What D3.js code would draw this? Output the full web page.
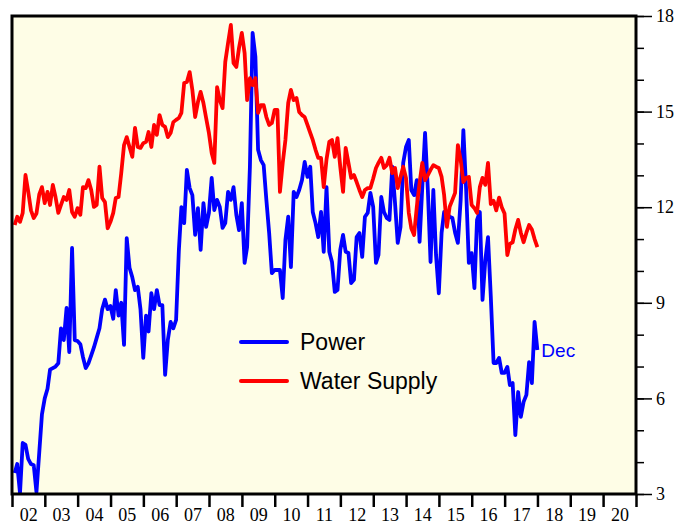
<!DOCTYPE html>
<html>
<head>
<meta charset="utf-8">
<script src="https://cdn.jsdelivr.net/npm/d3@7"></script>
<style>
  body { margin: 0; background: #fff; }
  .tickLabel { font-family: "Liberation Serif", "Times New Roman", serif; font-size: 18px; fill: #000; }
  .legendText { font-family: "Liberation Sans", Arial, sans-serif; font-size: 23px; fill: #000; }
</style>
</head>
<body>
<div id="chart"></div>
<script>
// monthly readings, Jan 2002 .. Dec 2017
var startYear = 2002;

var powerValues = [
  3.66, 3.94, 3.03, 4.6, 4.54, 4.1, 3.94, 3.9, 3.06, 4.3, 5.5, 6.0,
  6.3, 6.9, 6.95, 7.0, 7.1, 8.2, 7.83, 8.84, 7.45, 10.72, 7.83, 7.8,
  7.7, 7.3, 6.95, 7.1, 7.35, 7.6, 7.9, 8.2, 8.8, 9.1, 8.8, 8.9,
  8.5, 9.4, 8.6, 9.0, 7.68, 11.03, 10.1, 9.8, 9.4, 9.5, 8.8, 7.27,
  8.6, 8.1, 9.3, 8.8, 9.4, 8.93, 8.93, 6.74, 7.83, 8.4, 8.2, 8.46,
  10.66, 12.0, 11.5, 13.17, 12.6, 12.38, 11.13, 11.97, 10.66, 12.13, 11.38, 11.82,
  12.92, 11.91, 12.23, 12.01, 11.35, 11.5, 12.48, 12.23, 12.63, 11.76, 11.28, 12.13,
  10.25, 10.75, 13.27, 17.47, 16.72, 13.8, 13.48, 13.32, 12.23, 11.19, 9.93, 10.03,
  10.03, 10.03, 9.15, 10.97, 11.7, 10.12, 12.48, 12.32, 12.54, 12.85, 13.42, 12.95,
  13.27, 11.85, 11.5, 11.06, 11.85, 10.6, 12.63, 10.6, 10.28, 9.34, 9.4, 10.66,
  11.13, 10.6, 10.56, 9.62, 9.72, 11.06, 11.19, 10.44, 11.7, 11.82, 12.45, 12.01,
  10.25, 10.5, 12.32, 11.85, 11.66, 11.6, 13.27, 12.13, 10.88, 11.38, 13.39, 13.89,
  14.11, 12.54, 12.38, 12.85, 10.91, 12.63, 14.33, 12.54, 10.28, 12.54, 10.5, 9.3,
  11.2, 11.85, 11.82, 11.7, 11.66, 11.2, 10.88, 12.23, 14.42, 12.54, 10.25, 10.56,
  9.46, 11.6, 11.85, 9.09, 10.34, 11.06, 9.2, 7.11, 7.11, 7.27, 6.8, 6.8,
  6.99, 6.42, 6.48, 4.85, 6.2, 5.42, 5.89, 6.11, 7.14, 6.48, 8.4, 7.52
];

var waterValues = [
  11.44, 11.7, 11.54, 11.82, 13.01, 12.5, 11.9, 11.66, 11.8, 12.4, 12.63, 12.13,
  12.48, 12.07, 12.7, 12.32, 11.82, 12.07, 12.32, 12.23, 12.54, 11.85, 11.7, 11.97,
  11.76, 12.63, 12.6, 12.85, 12.54, 12.01, 12.07, 13.27, 12.29, 12.16, 11.34, 11.54,
  11.82, 12.29, 12.32, 13.07, 13.95, 14.2, 13.89, 13.58, 14.49, 13.89, 13.86, 14.01,
  14.05, 14.36, 13.89, 14.58, 14.27, 14.89, 14.58, 14.52, 14.2, 14.33, 14.67, 14.74,
  14.8, 14.96, 15.9, 15.93, 16.24, 15.68, 14.83, 15.3, 15.62, 15.27, 14.8, 14.33,
  13.7, 13.39, 15.77, 15.36, 15.11, 16.56, 17.15, 17.72, 16.52, 16.4, 17.0, 17.47,
  16.84, 15.36, 16.05, 15.83, 16.05, 14.96, 15.2, 15.2, 14.83, 14.58, 14.64, 15.05,
  15.05, 12.48, 13.39, 14.11, 15.27, 15.68, 15.36, 15.43, 14.99, 14.89, 14.83, 14.58,
  14.33, 14.11, 13.8, 13.55, 13.55, 12.63, 13.5, 14.05, 14.11, 13.58, 14.17, 13.27,
  12.48, 13.86, 13.39, 12.92, 13.01, 12.79, 12.54, 12.32, 12.54, 12.6, 12.6, 12.9,
  13.23, 13.39, 13.55, 13.23, 13.32, 13.55, 13.07, 13.23, 12.6, 12.95, 13.27, 12.92,
  11.82, 11.34, 11.13, 12.01, 12.76, 13.39, 12.85, 13.01, 13.17, 13.32, 13.27, 13.23,
  12.95, 12.38, 11.38, 12.01, 12.23, 12.45, 13.95, 13.48, 12.79, 12.92, 12.95, 12.07,
  11.97, 11.82, 12.63, 12.92, 12.7, 13.39, 12.1, 12.2, 11.9, 12.3, 12.0, 11.8,
  10.5, 10.85, 10.9, 11.3, 11.6, 11.2, 10.9, 11.2, 11.44, 11.3, 11.0, 10.75
];

var yTickValues = [3, 6, 9, 12, 15, 18];
var seriesNames = ["Power", "Water Supply"];
var seriesColors = ["#0000ff", "#ff0000"];
var lastLabel = "Dec";

// svg container
var svgWidth = 696;
var svgHeight = 529;

// plot box
var box = { left: 12, top: 16, right: 636, bottom: 494 };

var svg = d3.select("#chart")
  .append("svg")
  .attr("width", svgWidth)
  .attr("height", svgHeight);

// scales
var x = d3.scaleTime()
  .domain([new Date(2002, 0, 1), new Date(2021, 0, 1)])
  .range([box.left, box.right]);

var y = d3.scaleLinear()
  .domain([3, 18])
  .range([box.bottom, box.top]);

// each reading sits at the end of its month
function monthDate(i) {
  return new Date(startYear, i + 1, 0);
}

// background
svg.append("rect")
  .attr("x", box.left)
  .attr("y", box.top)
  .attr("width", box.right - box.left)
  .attr("height", box.bottom - box.top)
  .attr("fill", "#fefde6");

// lines
var line = d3.line()
  .x((d, i) => x(monthDate(i)))
  .y(d => y(d));

[powerValues, waterValues].forEach(function(vals, k) {
  svg.append("path")
    .datum(vals)
    .attr("fill", "none")
    .attr("stroke", seriesColors[k])
    .attr("stroke-width", 3.8)
    .attr("stroke-linejoin", "round")
    .attr("d", line);
});

// end label
var lastIdx = powerValues.length - 1;
svg.append("text")
  .attr("x", x(monthDate(lastIdx)) + 4)
  .attr("y", y(powerValues[lastIdx]) + 7)
  .attr("font-family", "Liberation Sans, Arial, sans-serif")
  .attr("font-size", 19)
  .attr("fill", seriesColors[0])
  .text(lastLabel);

// border
svg.append("rect")
  .attr("x", box.left)
  .attr("y", box.top)
  .attr("width", box.right - box.left)
  .attr("height", box.bottom - box.top)
  .attr("fill", "none")
  .attr("stroke", "#000")
  .attr("stroke-width", 3);

// right axis, minor then major ticks
var minorAxis = d3.axisRight(y)
  .tickValues(d3.range(3, 19, 1))
  .tickSize(8)
  .tickFormat("");

svg.append("g")
  .attr("transform", `translate(${box.right}, 0)`)
  .call(minorAxis)
  .call(g => g.select(".domain").remove())
  .call(g => g.selectAll("line").attr("stroke-width", 1.5));

var rightAxis = d3.axisRight(y)
  .tickValues(yTickValues)
  .tickSize(16)
  .tickPadding(4);

svg.append("g")
  .attr("transform", `translate(${box.right}, 0)`)
  .call(rightAxis)
  .call(g => g.select(".domain").remove())
  .call(g => g.selectAll("line").attr("stroke-width", 1.5))
  .call(g => g.selectAll("text").attr("class", "tickLabel"));

// bottom axis, year boundary ticks
var years = d3.range(2002, 2022).map(yr => new Date(yr, 0, 1));
var bottomAxis = d3.axisBottom(x)
  .tickValues(years)
  .tickSize(13)
  .tickFormat("");

svg.append("g")
  .attr("transform", `translate(0, ${box.bottom})`)
  .call(bottomAxis)
  .call(g => g.select(".domain").remove())
  .call(g => g.selectAll("line").attr("stroke-width", 2.5));

// year labels centred in each year
var midYears = d3.range(2002, 2021).map(yr => new Date(yr, 6, 1));
var labelAxis = d3.axisBottom(x)
  .tickValues(midYears)
  .tickSize(0)
  .tickPadding(14)
  .tickFormat(d3.timeFormat("%y"));

svg.append("g")
  .attr("transform", `translate(0, ${box.bottom})`)
  .call(labelAxis)
  .call(g => g.select(".domain").remove())
  .call(g => g.selectAll("text").attr("class", "tickLabel"));

// legend
var legend = svg.append("g")
  .attr("transform", "translate(241, 342)");

seriesNames.forEach(function(name, k) {
  legend.append("line")
    .attr("x1", 0)
    .attr("x2", 46)
    .attr("y1", k * 39)
    .attr("y2", k * 39)
    .attr("stroke", seriesColors[k])
    .attr("stroke-width", 4)
    .attr("stroke-linecap", "round");

  legend.append("text")
    .attr("class", "legendText")
    .attr("x", 59)
    .attr("y", k * 39 + 8)
    .text(name);
});
</script>
</body>
</html>
